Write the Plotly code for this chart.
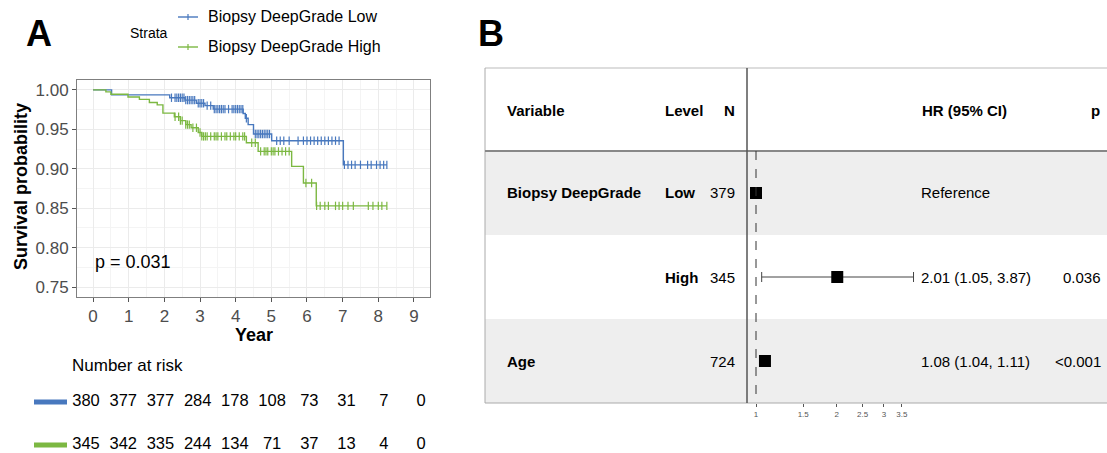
import numpy as np
import plotly.graph_objects as go

W, H = 1107, 453
FONT = "Liberation Sans, Arial, Helvetica, sans-serif"

# ---------------- Data ----------------
strata_names = ["Biopsy DeepGrade Low", "Biopsy DeepGrade High"]
strata_colors = ["#4878BE", "#7CB842"]

low_times = [0, 0.52, 2.15, 2.58, 2.9, 3.14, 3.37, 4.21, 4.27, 4.35, 4.5, 5.01, 7.02]
low_surv = [1.0, 0.9937, 0.990, 0.987, 0.983, 0.980, 0.9756, 0.970, 0.964, 0.956, 0.944, 0.9356, 0.905]
low_end = 8.24
low_censor = [2.2, 2.3, 2.35, 2.4, 2.45, 2.5, 2.55, 2.6, 2.65, 2.7, 2.75, 2.8, 2.85, 2.95, 3.0,
              3.05, 3.1, 3.2, 3.3, 3.4, 3.45, 3.5, 3.55, 3.6, 3.65, 3.7, 3.8, 3.9, 3.95, 4.0,
              4.05, 4.1, 4.15, 4.2, 4.3, 4.55, 4.6, 4.65, 4.7, 4.75, 4.8, 4.85, 4.9, 4.95,
              5.15, 5.25, 5.35, 5.5, 5.75, 5.9, 6.0, 6.1, 6.2, 6.3, 6.4, 6.5, 6.6, 6.7, 6.8,
              6.9, 7.05, 7.15, 7.25, 7.35, 7.5, 7.7, 7.8, 7.95, 8.05, 8.15, 8.24]

high_times = [0, 0.36, 0.5, 0.98, 1.3, 1.58, 1.8, 1.96, 2.28, 2.45, 2.6, 2.75, 2.95, 3.05,
              4.3, 4.63, 5.57, 5.9, 6.26]
high_surv = [1.0, 0.9975, 0.9945, 0.991, 0.988, 0.984, 0.981, 0.9705, 0.966, 0.961, 0.956,
             0.952, 0.946, 0.941, 0.933, 0.922, 0.903, 0.882, 0.853]
high_end = 8.24
high_censor = [2.3, 2.4, 2.45, 2.5, 2.6, 2.65, 2.7, 2.8, 2.9, 3.0, 3.05, 3.1, 3.15, 3.2, 3.3,
               3.4, 3.45, 3.5, 3.6, 3.7, 3.75, 3.85, 3.95, 4.0, 4.1, 4.2, 4.25, 4.45, 4.55,
               4.7, 4.8, 4.85, 4.9, 5.0, 5.05, 5.1, 5.2, 5.3, 5.4, 5.5, 5.97, 6.13, 6.27,
               6.37, 6.5, 6.6, 6.8, 6.9, 7.0, 7.15, 7.3, 7.72, 7.85, 8.0, 8.1, 8.24]

pvalue_text = "p = 0.031"

risk_years = list(range(10))
risk_low = [380, 377, 377, 284, 178, 108, 73, 31, 7, 0]
risk_high = [345, 342, 335, 244, 134, 71, 37, 13, 4, 0]

y_ticks = [0.75, 0.80, 0.85, 0.90, 0.95, 1.00]
x_ticks = list(range(10))

# Forest plot data
fp_variable = ["Biopsy DeepGrade", "", "Age"]
fp_level = ["Low", "High", ""]
fp_n = [379, 345, 724]
fp_hr = [1.0, 2.01, 1.08]
fp_lo = [None, 1.05, 1.04]
fp_hi = [None, 3.87, 1.11]
fp_hrtext = ["Reference", "2.01 (1.05, 3.87)", "1.08 (1.04, 1.11)"]
fp_p = ["", "0.036", "<0.001"]
fp_ticks = [1, 1.5, 2, 2.5, 3, 3.5]

# ---------------- helpers ----------------
def PX(px):
    return px / W

def PY(py):
    return 1 - py / H

fig = go.Figure()

# ---------------- KM curves ----------------
groups = [(low_times, low_surv, low_end, low_censor), (high_times, high_surv, high_end, high_censor)]
for (t, s, end, cens), name, col in zip(groups, strata_names, strata_colors):
    fig.add_trace(go.Scatter(x=t + [end], y=s + [s[-1]], mode="lines", line_shape="hv",
                             line=dict(color=col, width=1.4), name=name, showlegend=False,
                             xaxis="x", yaxis="y"))
    idx = np.searchsorted(np.array(t), np.array(cens), side="right") - 1
    cy = [s[i] for i in idx]
    fig.add_trace(go.Scatter(x=cens, y=cy, mode="markers",
                             marker=dict(symbol="line-ns", size=6, line=dict(color=col, width=1.2)),
                             showlegend=False, xaxis="x", yaxis="y", hoverinfo="skip"))

# ---------------- Risk table ----------------
for i, (vals, col) in enumerate(zip([risk_low, risk_high], strata_colors)):
    fig.add_trace(go.Scatter(x=risk_years, y=[i] * len(vals), mode="text",
                             text=[str(v) for v in vals], textposition="middle center",
                             textfont=dict(size=16.5, color="black", family=FONT),
                             showlegend=False, xaxis="x2", yaxis="y2", hoverinfo="skip"))

# ---------------- Forest ----------------
plus = [0 if h is None else h - r for r, h in zip(fp_hr, fp_hi)]
minus = [0 if l is None else r - l for r, l in zip(fp_hr, fp_lo)]
fig.add_trace(go.Scatter(x=fp_hr, y=list(range(len(fp_hr))), mode="markers",
                         marker=dict(symbol="square", size=12, color="black"),
                         error_x=dict(type="data", symmetric=False, array=plus, arrayminus=minus,
                                      color="#444444", thickness=1, width=5),
                         showlegend=False, xaxis="x3", yaxis="y3"))

shapes = []
annotations = []
FS = 15

# row shading
for i in range(len(fp_hr)):
    if i % 2 == 0:
        shapes.append(dict(type="rect", xref="paper", yref="y3", x0=PX(485), x1=1.0,
                           y0=i - 0.5, y1=i + 0.5, fillcolor="#EEEEEE", line=dict(width=0),
                           layer="below"))
# box lines
shapes += [
    dict(type="line", xref="paper", yref="paper", x0=PX(485), x1=1.0, y0=PY(68), y1=PY(68),
         line=dict(color="#BBBBBB", width=1)),
    dict(type="line", xref="paper", yref="paper", x0=PX(485), x1=PX(485), y0=PY(68), y1=PY(403),
         line=dict(color="#AAAAAA", width=1)),
    dict(type="line", xref="paper", yref="paper", x0=PX(485), x1=1.0, y0=PY(403), y1=PY(403),
         line=dict(color="#AAAAAA", width=1)),
    dict(type="line", xref="paper", yref="paper", x0=PX(485), x1=1.0, y0=PY(151), y1=PY(151),
         line=dict(color="#888888", width=2)),
    dict(type="line", xref="paper", yref="paper", x0=PX(747), x1=PX(747), y0=PY(68), y1=PY(403),
         line=dict(color="#555555", width=1.5)),
    dict(type="line", xref="x3", yref="y3", x0=1, x1=1, y0=-0.5, y1=2.5,
         line=dict(color="#333333", width=1, dash="dash")),
]

# header
hdr_y = PY(110)
hdr = [("Variable", 505, "left"), ("Level", 663, "left"), ("N", 737, "right"),
       ("HR (95% CI)", 920, "left"), ("p", 1102, "right")]
for txt, x, anc in hdr:
    annotations.append(dict(text=f"<b>{txt}</b>", xref="paper", yref="paper", x=PX(x), y=hdr_y,
                            xanchor=anc, yanchor="middle", showarrow=False,
                            font=dict(size=FS, color="black", family=FONT)))
for i in range(len(fp_hr)):
    cells = [(f"<b>{fp_variable[i]}</b>" if fp_variable[i] else "", 505, "left"),
             (f"<b>{fp_level[i]}</b>" if fp_level[i] else "", 663, "left"),
             (str(fp_n[i]), 737, "right"),
             (fp_hrtext[i], 919, "left"),
             (fp_p[i], 1103, "right")]
    for txt, x, anc in cells:
        if not txt:
            continue
        annotations.append(dict(text=txt, xref="paper", yref="y3", x=PX(x), y=i,
                                xanchor=anc, yanchor="middle", showarrow=False,
                                font=dict(size=FS, color="black", family=FONT)))

# ---------------- Legend (manual) ----------------
annotations.append(dict(text="Strata", xref="paper", yref="paper", x=PX(149), y=PY(33),
                        xanchor="center", yanchor="middle", showarrow=False,
                        font=dict(size=14, color="black", family=FONT)))
for name, col, yy in zip(strata_names, strata_colors, [17, 47]):
    shapes.append(dict(type="line", xref="paper", yref="paper", x0=PX(178), x1=PX(198),
                       y0=PY(yy), y1=PY(yy), line=dict(color=col, width=1.4)))
    shapes.append(dict(type="line", xref="paper", yref="paper", x0=PX(188), x1=PX(188),
                       y0=PY(yy - 3), y1=PY(yy + 3), line=dict(color=col, width=1.2)))
    annotations.append(dict(text=name, xref="paper", yref="paper", x=PX(206), y=PY(yy),
                            xanchor="left", yanchor="middle", showarrow=False,
                            font=dict(size=16, color="black", family=FONT)))

# risk-table legend bars
for i, col in enumerate(strata_colors):
    shapes.append(dict(type="line", xref="paper", yref="y2", x0=PX(34), x1=PX(67), y0=i, y1=i,
                       line=dict(color=col, width=5)))
annotations.append(dict(text="Number at risk", xref="paper", yref="paper", x=PX(70), y=PY(365),
                        xanchor="left", yanchor="middle", showarrow=False,
                        font=dict(size=17, color="black", family=FONT)))

# p-value
annotations.append(dict(text=pvalue_text, xref="x", yref="y", x=0, y=0.7816,
                        xanchor="left", yanchor="middle", showarrow=False,
                        font=dict(size=18, color="black", family=FONT)))

# axis titles
annotations.append(dict(text="<b>Survival probability</b>", xref="paper", yref="paper",
                        x=PX(21), y=PY(187), textangle=-90, xanchor="center", yanchor="middle",
                        showarrow=False, font=dict(size=18, color="black", family=FONT)))
annotations.append(dict(text="<b>Year</b>", xref="paper", yref="paper", x=PX(253.5), y=PY(335),
                        xanchor="center", yanchor="middle", showarrow=False,
                        font=dict(size=18, color="black", family=FONT)))

# panel letters
for letter, x in [("A", 38.5), ("B", 490.5)]:
    annotations.append(dict(text=f"<b>{letter}</b>", xref="paper", yref="paper", x=PX(x), y=PY(33),
                            xanchor="center", yanchor="middle", showarrow=False,
                            font=dict(size=36, color="black", family=FONT)))

# ---------------- Layout ----------------
# forest log axis range
lnpx = 116.4
fx0 = np.log10(np.exp((747 - 756) / lnpx))
fx1 = np.log10(np.exp((1107 - 756) / lnpx))

fig.update_layout(
    width=W, height=H, margin=dict(l=0, r=0, t=0, b=0),
    paper_bgcolor="white", plot_bgcolor="rgba(0,0,0,0)",
    font=dict(family=FONT, color="black"),
    showlegend=False,
    xaxis=dict(domain=[PX(77), PX(430)], range=[-0.45, 9.45], tickvals=x_ticks,
               ticktext=[str(v) for v in x_ticks], tickfont=dict(size=17, color="#4D4D4D"),
               ticks="outside", ticklen=4, tickcolor="#555555",
               showgrid=True, gridcolor="#EBEBEB", gridwidth=1.2,
               minor=dict(dtick=0.5, tick0=0, showgrid=True, gridcolor="#F4F4F4", gridwidth=0.7),
               zeroline=False, showline=True, mirror=True, linecolor="#7F7F7F", linewidth=1,
               anchor="y", automargin=False),
    yaxis=dict(domain=[PY(297), PY(80)], range=[0.7375, 1.0125], tickvals=y_ticks,
               ticktext=[f"{v:.2f}" for v in y_ticks], tickfont=dict(size=17, color="#4D4D4D"),
               ticks="outside", ticklen=4, tickcolor="#555555",
               showgrid=True, gridcolor="#EBEBEB", gridwidth=1.2,
               minor=dict(dtick=0.025, tick0=0.75, showgrid=True, gridcolor="#F4F4F4", gridwidth=0.7),
               zeroline=False, showline=True, mirror=True, linecolor="#7F7F7F", linewidth=1,
               anchor="x", automargin=False),
    xaxis2=dict(domain=[PX(67.4), PX(439.6)], range=[-0.5, 9.5], visible=False, anchor="y2"),
    yaxis2=dict(domain=[0, PY(380)], range=[1.186, -0.512], visible=False, anchor="x2"),
    xaxis3=dict(domain=[PX(747), 1.0], type="log", range=[fx0, fx1], tickvals=fp_ticks,
                ticktext=[str(v) for v in fp_ticks], tickfont=dict(size=8, color="#555555"),
                ticks="outside", ticklen=3, tickcolor="#555555", showgrid=False,
                zeroline=False, showline=False, anchor="y3", automargin=False),
    yaxis3=dict(domain=[PY(403), PY(151)], range=[2.5, -0.5], visible=False, anchor="x3"),
    shapes=shapes, annotations=annotations,
)

fig.write_html("out.html", config={"displayModeBar": False},
               post_script="document.body.style.margin='0';document.body.style.overflow='hidden';")
